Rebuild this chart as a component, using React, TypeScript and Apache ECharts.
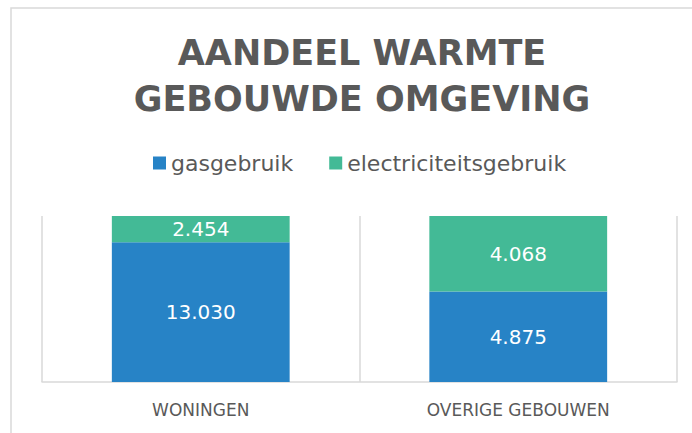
import React, { useEffect, useRef } from "react";
import * as echarts from "echarts";

const titleLines = ["AANDEEL WARMTE", "GEBOUWDE OMGEVING"];
const categories = ["WONINGEN", "OVERIGE GEBOUWEN"];
const seriesNames = ["gasgebruik", "electriciteitsgebruik"];
const gasgebruik = [13030, 4875];
const electriciteitsgebruik = [2454, 4068];

const BLUE = "#2783C6";
const GREEN = "#43BA96";
const TEXT = "#595959";
const LINE = "#D9D9D9";
const FONT = "DejaVu Sans";

const fmt = (v: number) => String(v).replace(/\B(?=(\d{3})+(?!\d))/g, ".");

export default function App() {
  const ref = useRef<HTMLDivElement>(null);
  useEffect(() => {
    if (!ref.current) return;
    const chart = echarts.init(ref.current, null, { renderer: "svg" });
    const totals = categories.map((_, i) => gasgebruik[i] + electriciteitsgebruik[i]);
    const toShare = (arr: number[]) =>
      arr.map((v, i) => ({ value: (v / totals[i]) * 100, raw: v }));
    const label = {
      show: true,
      position: "inside",
      color: "#FFFFFF",
      fontFamily: FONT,
      fontSize: 20,
      formatter: (p: any) => fmt(p.data.raw),
    };
    chart.setOption({
      animation: false,
      backgroundColor: "#FFFFFF",
      graphic: [
        {
          type: "rect",
          shape: { x: 11, y: 8, width: 720, height: 460 },
          style: { fill: "none", stroke: LINE, lineWidth: 1.5 },
          silent: true,
          z: -10,
        },
      ],
      title: {
        text: titleLines.join("\n"),
        left: 357,
        textAlign: "center",
        top: 25,
        textStyle: {
          fontFamily: FONT,
          fontWeight: "bold",
          fontSize: 35,
          lineHeight: 46,
          color: TEXT,
        },
      },
      legend: {
        data: seriesNames,
        left: 148,
        top: 147,
        icon: "rect",
        itemWidth: 13,
        itemHeight: 13,
        itemGap: 36,
        textStyle: { fontFamily: FONT, fontSize: 22, color: TEXT },
      },
      grid: { left: 42, right: 15, top: 216, bottom: 51, containLabel: false },
      xAxis: {
        type: "category",
        data: categories,
        boundaryGap: true,
        axisLine: { show: true, lineStyle: { color: LINE, width: 1.5 } },
        axisTick: { show: false },
        splitLine: { show: true, lineStyle: { color: LINE, width: 1.5 } },
        axisLabel: {
          color: TEXT,
          fontFamily: FONT,
          fontSize: 17,
          margin: 19,
        },
      },
      yAxis: {
        type: "value",
        min: 0,
        max: 100,
        show: false,
        splitLine: { show: false },
      },
      series: [
        {
          name: seriesNames[0],
          type: "bar",
          stack: "total",
          barWidth: "56%",
          itemStyle: { color: BLUE },
          label,
          data: toShare(gasgebruik),
        },
        {
          name: seriesNames[1],
          type: "bar",
          stack: "total",
          barWidth: "56%",
          itemStyle: { color: GREEN },
          label,
          data: toShare(electriciteitsgebruik),
        },
      ],
    });
    return () => chart.dispose();
  }, []);
  return (
    <div
      ref={ref}
      style={{ position: "fixed", left: 0, top: 0, width: 692, height: 433, overflow: "hidden" }}
    />
  );
}
